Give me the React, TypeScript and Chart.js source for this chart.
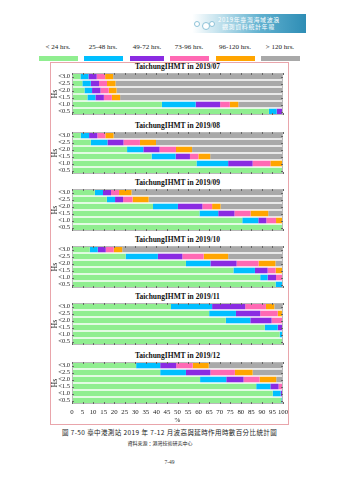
import React, { useEffect, useRef } from "react";
import { Chart, registerables } from "chart.js";

Chart.register(...registerables);

// ---- data ----
const hsLabels = ["<3.0", "<2.5", "<2.0", "<1.5", "<1.0", "<0.5"];
const durationLabels = ["< 24 hrs.", "25-48 hrs.", "49-72 hrs.", "73-96 hrs.", "96-120 hrs.", "> 120 hrs."];
const durationColors = ["#90EE90", "#00BFFF", "#8A2BE2", "#FF69B4", "#FFA500", "#A9A9A9"];
const xTickValues = [0, 5, 10, 15, 20, 25, 30, 35, 40, 45, 50, 55, 60, 65, 70, 75, 80, 85, 90, 95, 100];
const monthTitles = [
  "TaichungIHMT in 2019/07",
  "TaichungIHMT in 2019/08",
  "TaichungIHMT in 2019/09",
  "TaichungIHMT in 2019/10",
  "TaichungIHMT in 2019/11",
  "TaichungIHMT in 2019/12",
];

// each month: one array per duration class, values per Hs row (<3.0 ... <0.5), in %
const jul = [
  [4.0, 4.9, 5.9, 7.3, 42.6, 93.3],
  [3.8, 4.0, 3.6, 3.8, 16.0, 3.7],
  [3.9, 3.9, 4.0, 4.0, 11.6, 3.0],
  [4.0, 3.8, 3.9, 3.8, 4.6, 0],
  [3.8, 4.0, 3.7, 3.9, 4.0, 0],
  [80.5, 79.4, 78.9, 77.2, 21.2, 0],
];
const aug = [
  [4.1, 8.9, 26.1, 37.7, 59.0, 100],
  [4.0, 7.9, 7.7, 11.4, 15.0, 0],
  [3.9, 7.6, 7.7, 6.8, 11.6, 0],
  [3.8, 7.8, 7.8, 4.0, 8.4, 0],
  [3.9, 7.6, 7.6, 5.6, 6.0, 0],
  [80.3, 60.2, 43.1, 34.5, 0, 0],
];
const sep = [
  [10.8, 16.5, 38.4, 60.4, 80.7, 100],
  [3.9, 3.9, 11.8, 8.9, 7.6, 0],
  [3.8, 3.8, 11.6, 7.7, 3.8, 0],
  [3.8, 4.5, 4.6, 7.6, 4.6, 0],
  [5.9, 7.6, 4.0, 8.4, 3.3, 0],
  [71.8, 63.7, 29.6, 7.0, 0, 0],
];
const oct = [
  [8.4, 25.4, 54.0, 76.5, 89.2, 96.5],
  [3.8, 15.3, 11.6, 10.2, 3.5, 3.5],
  [3.8, 11.6, 12.4, 6.0, 4.0, 0],
  [3.8, 10.1, 10.4, 3.8, 3.3, 0],
  [4.0, 11.6, 8.0, 3.5, 0, 0],
  [76.2, 26.0, 3.6, 0, 0, 0],
];
const nov = [
  [46.9, 65.0, 72.9, 91.4, 98.4, 100],
  [19.5, 12.7, 11.6, 6.1, 1.6, 0],
  [15.7, 11.5, 10.1, 2.5, 0, 0],
  [9.8, 8.3, 5.4, 0, 0, 0],
  [4.0, 2.0, 0, 0, 0, 0],
  [4.1, 0.5, 0, 0, 0, 0],
];
const dec = [
  [30.4, 41.8, 60.7, 87.3, 95.1, 99.2],
  [11.4, 12.2, 12.4, 6.7, 3.8, 0.8],
  [7.6, 11.6, 8.2, 3.9, 1.1, 0],
  [7.8, 11.6, 7.6, 2.1, 0, 0],
  [7.6, 8.4, 7.9, 0, 0, 0],
  [35.2, 14.4, 3.2, 0, 0, 0],
];
const monthSeries = [jul, aug, sep, oct, nov, dec];

// ---- layout ----
const SERIF = "'Liberation Serif', 'DejaVu Serif', serif";
const CJK = "'Noto Sans CJK TC', 'Noto Sans CJK SC', sans-serif";
const PLOT_TOPS = [73, 132, 189, 246, 303, 362];
const PLOT_H = 42;
const CANVAS_LEFT = 36;
const CANVAS_W = 260;
const PLOT_LEFT = 72;
const PLOT_RIGHT = 283;
const AXIS_H = 20;

const frameTicksPlugin = {
  id: "frameTicks",
  afterDatasetsDraw(chart: any) {
    const { ctx, chartArea: a, scales } = chart;
    const x = scales.x;
    const y = scales.y;
    ctx.save();
    ctx.strokeStyle = "#b9b9b9";
    ctx.lineWidth = 1;
    ctx.strokeRect(a.left + 0.5, a.top + 0.5, a.right - a.left - 1, a.bottom - a.top - 1);
    ctx.strokeStyle = "#666";
    ctx.beginPath();
    xTickValues.forEach((v) => {
      const px = Math.round(x.getPixelForValue(v)) + 0.5;
      ctx.moveTo(px, a.top);
      ctx.lineTo(px, a.top + 2);
      ctx.moveTo(px, a.bottom);
      ctx.lineTo(px, a.bottom - 2);
    });
    y.ticks.forEach((_t: any, i: number) => {
      const py = Math.round(y.getPixelForTick(i)) + 0.5;
      ctx.moveTo(a.left, py);
      ctx.lineTo(a.left + 2, py);
      ctx.moveTo(a.right, py);
      ctx.lineTo(a.right - 2, py);
    });
    ctx.stroke();
    ctx.restore();
  },
};

function Panel({ series, showAxis, top }: { series: number[][]; showAxis: boolean; top: number }) {
  const ref = useRef<HTMLCanvasElement | null>(null);
  const height = 1 + PLOT_H + (showAxis ? AXIS_H : 1);
  useEffect(() => {
    if (!ref.current) return;
    const chart = new Chart(ref.current, {
      type: "bar",
      data: {
        labels: hsLabels,
        datasets: durationLabels.map((l, k) => ({
          label: l,
          data: series[k],
          backgroundColor: durationColors[k],
          borderWidth: 0,
          barPercentage: 0.8,
          categoryPercentage: 1,
        })),
      },
      options: {
        indexAxis: "y",
        animation: false,
        responsive: false,
        maintainAspectRatio: false,
        layout: { padding: { top: 1, bottom: showAxis ? 0 : 1, left: 0, right: CANVAS_LEFT + CANVAS_W - PLOT_RIGHT } },
        plugins: { legend: { display: false }, tooltip: { enabled: false }, title: { display: false } },
        scales: {
          x: {
            stacked: true,
            min: 0,
            max: 100,
            display: showAxis,
            grid: { display: false, drawTicks: false },
            border: { display: false },
            afterBuildTicks: (s: any) => {
              s.ticks = xTickValues.map((v) => ({ value: v }));
            },
            ticks: {
              autoSkip: false,
              maxRotation: 0,
              minRotation: 0,
              padding: 4,
              color: "#222",
              font: { family: SERIF, size: 6.8 },
            },
            title: { display: true, text: "%", color: "#222", font: { family: SERIF, size: 7 }, padding: 0 },
            afterFit: (s: any) => {
              s.height = showAxis ? AXIS_H : 0;
              s.paddingLeft = 0;
              s.paddingRight = 0;
            },
          },
          y: {
            stacked: true,
            grid: { display: false, drawTicks: false },
            border: { display: false },
            ticks: { autoSkip: false, padding: 2, color: "#222", font: { family: SERIF, size: 6.5 } },
            title: { display: true, text: "Hs", color: "#222", font: { family: SERIF, size: 8 }, padding: { top: 14, bottom: 0 } },
            afterFit: (s: any) => {
              s.width = PLOT_LEFT - CANVAS_LEFT;
              s.paddingTop = 0;
              s.paddingBottom = 0;
            },
          },
        },
      } as any,
      plugins: [frameTicksPlugin],
    });
    return () => chart.destroy();
  }, [series, showAxis]);
  return (
    <canvas
      ref={ref}
      width={CANVAS_W}
      height={height}
      style={{ position: "absolute", left: CANVAS_LEFT, top: top - 1, width: CANVAS_W, height }}
    />
  );
}

const legendCenters = [58, 103, 147, 189, 235, 280];
const legendPatchX = [39, 84, 130, 170, 216, 261];
const legendPatchW = [39, 39, 34, 39, 39, 39];

export default function App() {
  return (
    <div style={{ position: "fixed", left: 0, top: 0, width: 339, height: 480, background: "#fff", overflow: "hidden" }}>
      {/* header banner */}
      <div
        style={{
          position: "absolute",
          left: 192,
          top: 14,
          width: 114,
          height: 19,
          background: "linear-gradient(90deg, rgba(255,255,255,0) 0%, #bfe0ec 25%, #5fb0cf 60%, #2e8db5 100%)",
          filter: "blur(0.4px)",
        }}
      />
      {[194, 202, 209].map((cx, i) => (
        <div
          key={i}
          style={{
            position: "absolute",
            left: cx,
            top: i === 1 ? 22 : 21,
            width: i === 1 ? 6 : 4,
            height: i === 1 ? 6 : 4,
            borderRadius: "50%",
            border: "1px solid #8fc3d8",
            background: "#fff",
          }}
        />
      ))}
      <div
        style={{
          position: "absolute",
          left: 218,
          top: 16,
          fontFamily: CJK,
          fontSize: 6,
          lineHeight: "7px",
          color: "#fff",
          letterSpacing: 0.6,
          whiteSpace: "nowrap",
        }}
      >
        <div>2019年臺灣海域波浪</div>
        <div style={{ marginLeft: 4 }}>觀測資料統計年報</div>
      </div>

      {/* legend */}
      {durationLabels.map((l, k) => (
        <React.Fragment key={l}>
          <div
            style={{
              position: "absolute",
              left: legendCenters[k] - 30,
              width: 60,
              top: 42,
              textAlign: "center",
              fontFamily: SERIF,
              fontSize: 7,
              lineHeight: "10px",
              color: "#222",
              whiteSpace: "nowrap",
            }}
          >
            {l}
          </div>
          <div
            style={{
              position: "absolute",
              left: legendPatchX[k],
              top: 56,
              width: legendPatchW[k],
              height: 5,
              background: durationColors[k],
            }}
          />
        </React.Fragment>
      ))}

      {/* pink frame */}
      <div
        style={{
          position: "absolute",
          left: 50,
          top: 62,
          width: 237,
          height: 361,
          border: "1px solid #e9a5ab",
        }}
      />

      {monthTitles.map((t, i) => (
        <React.Fragment key={t}>
          <div
            style={{
              position: "absolute",
              left: PLOT_LEFT,
              width: PLOT_RIGHT - PLOT_LEFT,
              top: PLOT_TOPS[i] - 12,
              textAlign: "center",
              fontFamily: SERIF,
              fontWeight: "bold",
              fontSize: 7.5,
              lineHeight: "11px",
              color: "#111",
              whiteSpace: "nowrap",
            }}
          >
            {t}
          </div>
          <Panel series={monthSeries[i]} showAxis={i === 5} top={PLOT_TOPS[i]} />
        </React.Fragment>
      ))}

      {/* caption */}
      <div
        style={{
          position: "absolute",
          left: 0,
          width: 339,
          top: 428,
          textAlign: "center",
          fontFamily: CJK,
          fontSize: 6.5,
          lineHeight: "9px",
          color: "#222",
          letterSpacing: 0.4,
          whiteSpace: "nowrap",
        }}
      >
        圖 7-50  臺中港測站 2019 年 7-12 月波高與延時作用時數百分比統計圖
      </div>
      <div
        style={{
          position: "absolute",
          left: 110,
          width: 100,
          top: 438,
          textAlign: "center",
          fontFamily: CJK,
          fontSize: 5,
          lineHeight: "9px",
          color: "#222",
          whiteSpace: "nowrap",
        }}
      >
        資料來源：港灣技術研究中心
      </div>
      <div
        style={{
          position: "absolute",
          left: 0,
          width: 339,
          top: 458,
          textAlign: "center",
          fontFamily: SERIF,
          fontSize: 5.5,
          lineHeight: "8px",
          color: "#333",
        }}
      >
        7-49
      </div>
    </div>
  );
}
